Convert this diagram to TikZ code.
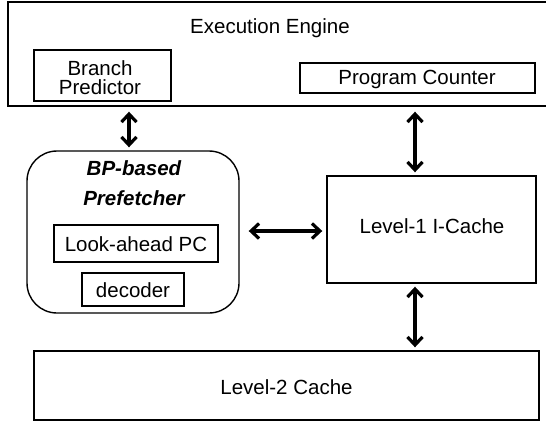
\documentclass[tikz,border=0pt]{standalone}
\usepackage{fontspec}
\setmainfont{Liberation Sans}
\usetikzlibrary{arrows.meta,calc}
\tikzset{
  box/.style={draw,line width=1.4pt,inner sep=0pt,rectangle},
  lbl/.style={inner sep=0pt,font=\fontsize{20.5}{19}\selectfont,align=center},
  blbl/.style={inner sep=0pt,font=\fontsize{20.5}{17}\selectfont\bfseries\itshape},
  tip/.style={Straight Barb[length=8pt,width=15pt,line width=3.2pt]},
  arr/.style={line width=3.4pt,{Straight Barb[length=8pt,width=15pt,line width=3.2pt]}-{Straight Barb[length=8pt,width=15pt,line width=3.2pt]}}
}
\begin{document}
\begin{tikzpicture}[x=1pt,y=-1pt]
\useasboundingbox (0,0) rectangle (546,421);
\begin{scope}
\clip (0,0) rectangle (546,421);
\node[box,minimum width=542pt,minimum height=104pt] (exec) at (279,54) {};
\end{scope}
\node[lbl] (exectxt) at (270,28) {Execution Engine};
\node[box,minimum width=137pt,minimum height=51pt] (bp) at (102.5,75.5) {};
\node[lbl] (bptxt) at (100,78) {Branch\\Predictor};
\node[box,minimum width=235pt,minimum height=30pt] (pc) at (417.5,78) {};
\node[lbl] (pctxt) at (417,79) {Program Counter};
\node[box,rounded corners=30pt,minimum width=212pt,minimum height=162pt] (pf) at (133,232) {};
\node[blbl] (pft1) at (134,168) {BP-based};
\node[blbl] (pft2) at (134,198) {Prefetcher};
\node[box,minimum width=164pt,minimum height=37pt] (lapc) at (136,243.5) {};
\node[lbl] (lapctxt) at (136,244) {Look-ahead PC};
\node[box,minimum width=102pt,minimum height=33pt] (dec) at (133,289.5) {};
\node[lbl] (dectxt) at (133,290) {decoder};
\node[box,minimum width=209pt,minimum height=107pt] (l1) at (431.5,229.5) {};
\node[lbl] (l1txt) at (432,226) {Level-1 I-Cache};
\node[box,minimum width=505pt,minimum height=69pt] (l2) at (286.5,385.5) {};
\node[lbl] (l2txt) at (286.5,387) {Level-2 Cache};
\coordinate (ax) at (415,0);
\coordinate (bx) at (129,0);
\draw[arr,shorten <=5pt,shorten >=3pt] (exec.south -| bx) -- (pf.north -| bx);
\draw[arr,shorten <=5pt,shorten >=3pt] (exec.south -| ax) -- (l1.north -| ax);
\draw[arr,shorten <=3pt,shorten >=3pt] (l1.south -| ax) -- (l2.north -| ax);
\draw[arr,shorten <=9pt,shorten >=4pt] (pf.east |- 0,231) -- (l1.west |- 0,231);
\end{tikzpicture}
\end{document}
